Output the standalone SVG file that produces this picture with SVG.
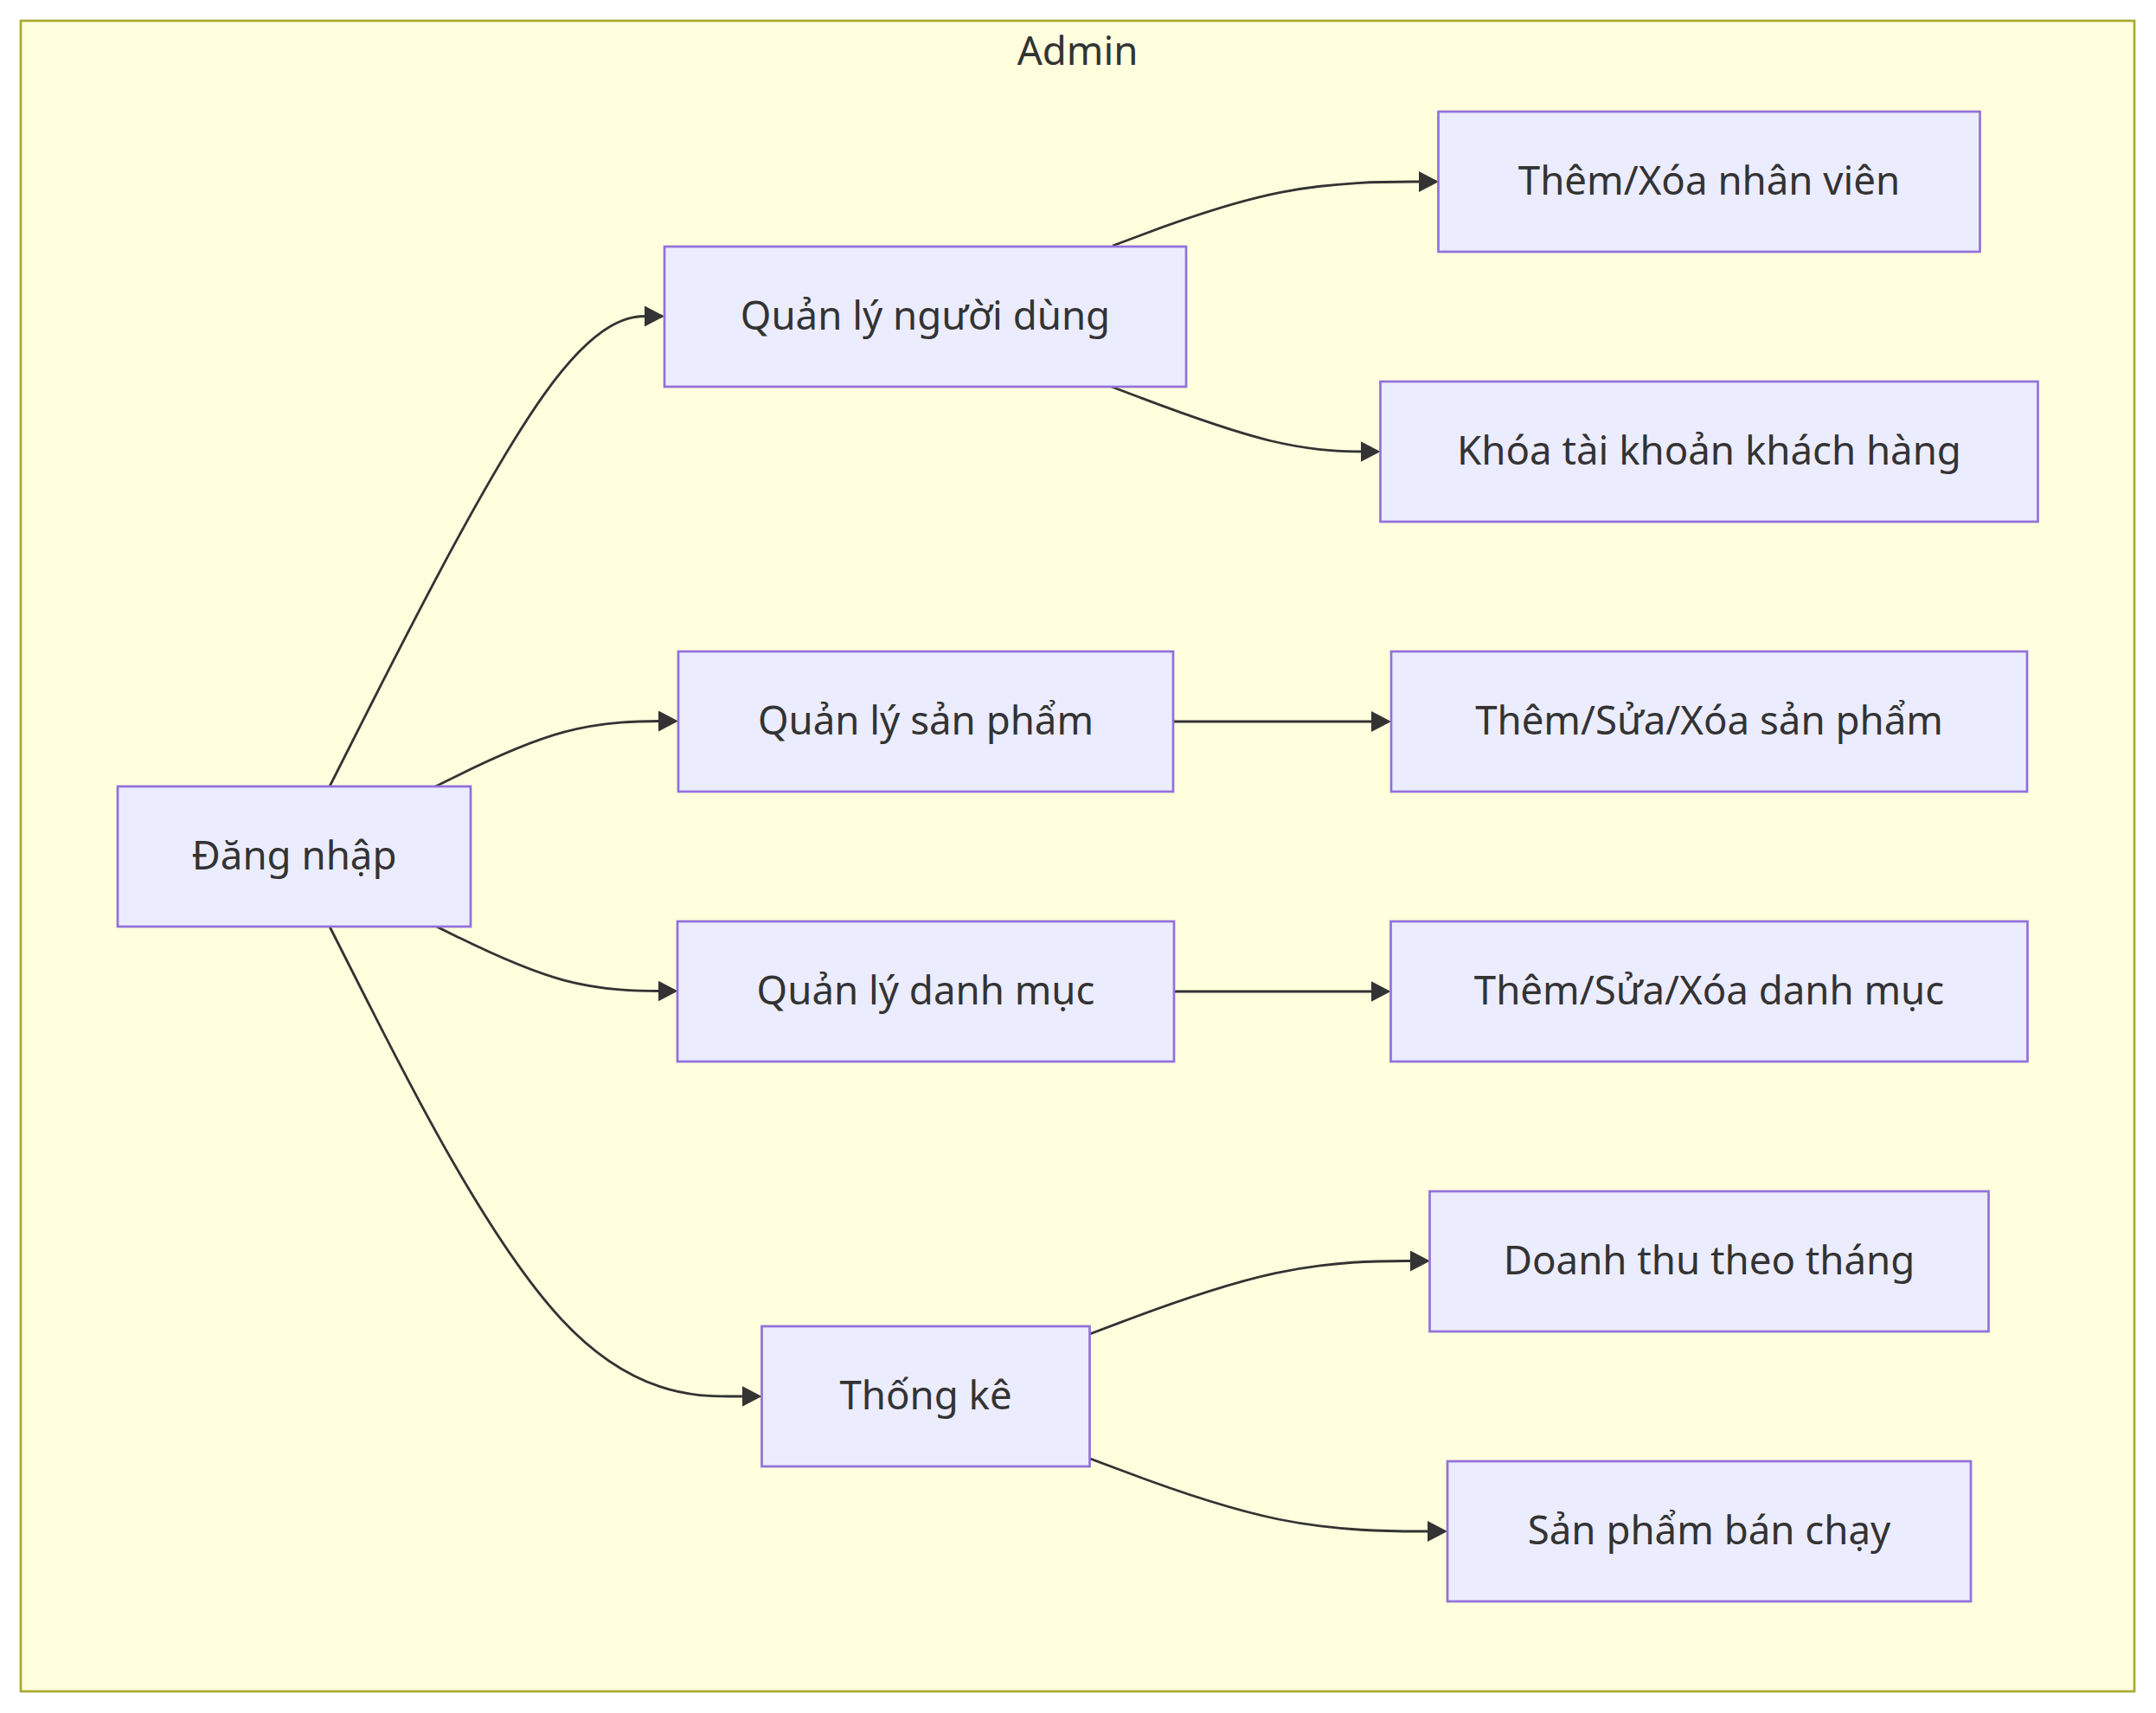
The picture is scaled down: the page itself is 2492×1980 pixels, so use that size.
<svg xmlns="http://www.w3.org/2000/svg" width="2492" height="1980" viewBox="0 0 2492 1980">
<style>
.cluster{fill:#FFFFDE;stroke:#AAAA33;stroke-width:2.7}
.node rect{fill:#ECECFF;stroke:#9370DB;stroke-width:2.7}
.lbl{font-family:"Noto Sans","Open Sans","DejaVu Sans",sans-serif;font-size:45.6px;fill:#333333;text-anchor:middle}
.edge{fill:none;stroke:#333333;stroke-width:2.8}
</style>
<defs>
<marker id="arrow" viewBox="0 0 23 24" refX="17" refY="12" markerWidth="23" markerHeight="24" markerUnits="userSpaceOnUse" orient="auto">
<path d="M0,0 L23,12 L0,24 z" fill="#333333"/>
</marker>
</defs>
<rect x="0" y="0" width="2492" height="1980" fill="#ffffff"/>
<g id="cluster-admin">
<rect class="cluster" x="24" y="24" width="2443" height="1931"/>
<text class="lbl" x="1245.5" y="75">Admin</text>
</g>
<g id="edges">
<path class="edge" marker-end="url(#arrow)" d="M381,909 L426.8,818.4 C472.7,727.8 564.3,546.7 628.8,456.1 C693.3,365.5 730.7,365.5 749.3,365.5 L762,365.5"/>
<path class="edge" marker-end="url(#arrow)" d="M503.5,909 L528.9,896.4 C554.3,883.8 605.2,858.7 651.9,846.1 C698.7,833.5 741.3,833.5 762.7,833.5 L778,833.5"/>
<path class="edge" marker-end="url(#arrow)" d="M504.6,1071 L529.8,1083.4 C555.1,1095.8 605.5,1120.7 652,1133.1 C698.5,1145.5 741,1145.5 762.3,1145.5 L777.5,1145.5"/>
<path class="edge" marker-end="url(#arrow)" d="M381,1071 L426.8,1161.5 C472.7,1252 564.3,1433 647.6,1523.5 C730.8,1614 805.7,1614 843.1,1614 L874.5,1614"/>
<path class="edge" marker-end="url(#arrow)" d="M1286.2,284 L1319,271.7 C1351.8,259.3 1417.4,234.7 1480.2,222.3 C1543,210 1603,210 1633,210 L1657,210"/>
<path class="edge" marker-end="url(#arrow)" d="M1284.8,447 L1317.8,459.5 C1350.9,472 1416.9,497 1468.7,509.5 C1520.5,522 1558,522 1576.8,522 L1589.5,522"/>
<path class="edge" marker-end="url(#arrow)" d="M1356,834 L1602,834"/>
<path class="edge" marker-end="url(#arrow)" d="M1357,1146 L1601.5,1146"/>
<path class="edge" marker-end="url(#arrow)" d="M1259.5,1542 L1296.8,1527.9 C1334,1513.8 1408.5,1485.7 1474.1,1471.6 C1539.7,1457.5 1596.3,1457.5 1624.7,1457.5 L1647,1457.5"/>
<path class="edge" marker-end="url(#arrow)" d="M1259.5,1685.8 L1296.8,1699.8 C1334,1713.9 1408.5,1741.9 1477.4,1756 C1546.3,1770 1609.7,1770 1641.3,1770 L1667,1770"/>
</g>
<g id="node-dang-nhap" class="node">
<rect x="136" y="909" width="408" height="162"/>
<text class="lbl" x="340" y="1005">Đăng nhập</text>
</g>
<g id="node-quan-ly-nguoi-dung" class="node">
<rect x="768" y="285" width="603" height="162"/>
<text class="lbl" x="1069.5" y="381">Quản lý người dùng</text>
</g>
<g id="node-quan-ly-san-pham" class="node">
<rect x="784" y="753" width="572" height="162"/>
<text class="lbl" x="1070" y="849">Quản lý sản phẩm</text>
</g>
<g id="node-quan-ly-danh-muc" class="node">
<rect x="783" y="1065" width="574" height="162"/>
<text class="lbl" x="1070" y="1161">Quản lý danh mục</text>
</g>
<g id="node-thong-ke" class="node">
<rect x="880.5" y="1533" width="379" height="162"/>
<text class="lbl" x="1070" y="1629">Thống kê</text>
</g>
<g id="node-them-xoa-nhan-vien" class="node">
<rect x="1662.5" y="129" width="626" height="162"/>
<text class="lbl" x="1975.5" y="225">Thêm/Xóa nhân viên</text>
</g>
<g id="node-khoa-tai-khoan" class="node">
<rect x="1595.5" y="441" width="760" height="162"/>
<text class="lbl" x="1975.5" y="537">Khóa tài khoản khách hàng</text>
</g>
<g id="node-them-sua-xoa-san-pham" class="node">
<rect x="1608" y="753" width="735" height="162"/>
<text class="lbl" x="1975.5" y="849">Thêm/Sửa/Xóa sản phẩm</text>
</g>
<g id="node-them-sua-xoa-danh-muc" class="node">
<rect x="1607.5" y="1065" width="736" height="162"/>
<text class="lbl" x="1975.5" y="1161">Thêm/Sửa/Xóa danh mục</text>
</g>
<g id="node-doanh-thu" class="node">
<rect x="1652.5" y="1377" width="646" height="162"/>
<text class="lbl" x="1975.5" y="1473">Doanh thu theo tháng</text>
</g>
<g id="node-san-pham-ban-chay" class="node">
<rect x="1673" y="1689" width="605" height="162"/>
<text class="lbl" x="1975.5" y="1785">Sản phẩm bán chạy</text>
</g>
</svg>
